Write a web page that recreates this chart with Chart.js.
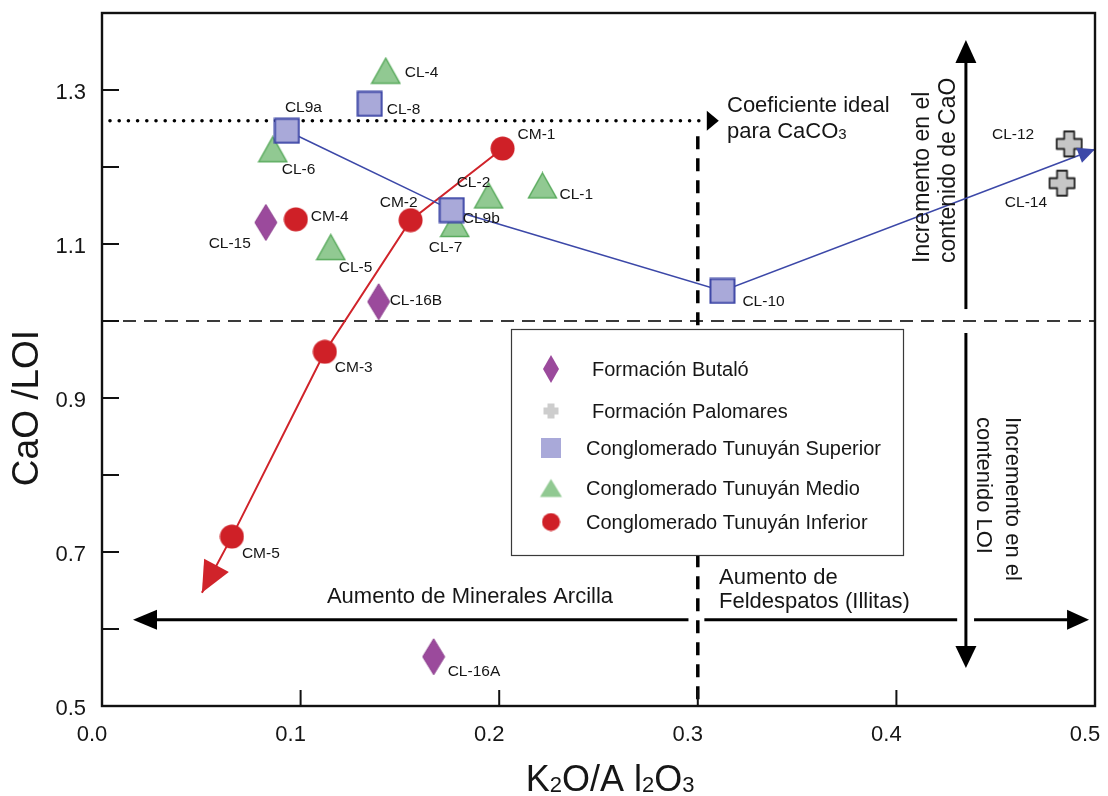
<!DOCTYPE html>
<html>
<head>
<meta charset="utf-8">
<script src="https://cdn.jsdelivr.net/npm/chart.js@4.4.0/dist/chart.umd.min.js"></script>
<style>
html,body{margin:0;padding:0;background:#fff;}
#wrap{width:1108px;height:796px;position:relative;}
</style>
</head>
<body>
<div id="wrap"><canvas id="c" width="1108" height="796"></canvas></div>
<script>
// ---------------- DATA ----------------
const butaloLabels = ['CL-15', 'CL-16B', 'CL-16A'];
const butaloX = [0.0825, 0.1393, 0.167];
const butaloY = [1.128, 1.025, 0.564];

const palomaresLabels = ['CL-12', 'CL-14'];
const palomaresX = [0.487, 0.4834];
const palomaresY = [1.230, 1.179];

const superiorLabels = ['CL9a', 'CL-8', 'CL9b', 'CL-10'];
const superiorX = [0.0931, 0.1348, 0.1761, 0.3124];
const superiorY = [1.247, 1.282, 1.144, 1.039];

const medioLabels = ['CL-4', 'CL-6', 'CL-5', 'CL-7', 'CL-2', 'CL-1'];
const medioX = [0.1429, 0.086, 0.1152, 0.1776, 0.1947, 0.2218];
const medioY = [1.325, 1.223, 1.096, 1.126, 1.163, 1.176];

const inferiorLabels = ['CM-1', 'CM-2', 'CM-4', 'CM-3', 'CM-5'];
const inferiorX = [0.2017, 0.1554, 0.0976, 0.1122, 0.0654];
const inferiorY = [1.224, 1.131, 1.132, 0.960, 0.720];

// trend arrows (CL9a -> CL9b -> CL-10 -> arrow tip ; CM-1 -> CM-2 -> CM-3 -> CM-5 -> arrow tip)
const superiorTrendX = [0.0931, 0.1761, 0.3124, 0.5];
const superiorTrendY = [1.247, 1.144, 1.039, 1.223];
const inferiorTrendX = [0.2017, 0.1554, 0.1122, 0.0654, 0.0503];
const inferiorTrendY = [1.224, 1.131, 0.960, 0.720, 0.647];

const xTickValues = [0, 0.1, 0.2, 0.3, 0.4, 0.5];
const yTickLabelValues = [0.5, 0.7, 0.9, 1.1, 1.3];
const yMinorTickValues = [0.6, 0.7, 0.8, 0.9, 1.0, 1.1, 1.2, 1.3];
const xMinorTickValues = [0.1, 0.2, 0.3, 0.4];

// reference lines / annotation values (data units)
const idealCaCO3 = 1.26;
const feldsparX = 0.3;
const unityY = 1.0;
const caoArrowX = 0.435;
const mineralArrowY = 0.612;

// ---------------- STYLE ----------------
const FF = "'Liberation Sans', Arial, Helvetica, sans-serif";
const TXT = '#161616';

const labelOffsets = {
  'CL9a': [-2, -23, 'left'], 'CL-8': [17, 6, 'left'], 'CL-4': [19, 2, 'left'],
  'CL-6': [9, 20, 'left'], 'CL-15': [-15, 21, 'right'], 'CM-4': [15, -3, 'left'],
  'CL-5': [8, 21, 'left'], 'CM-2': [7, -17, 'right'], 'CL-2': [-32, -13, 'left'],
  'CL9b': [11, 9, 'left'], 'CL-7': [-26, 24, 'left'], 'CM-1': [15, -14, 'left'],
  'CL-1': [17, 9, 'left'], 'CL-16B': [11, -1, 'left'], 'CM-3': [10, 16, 'left'],
  'CM-5': [10, 17, 'left'], 'CL-16A': [14, 15, 'left'], 'CL-10': [20, 11, 'left'],
  'CL-12': [-35, -9, 'right'], 'CL-14': [-15, 20, 'right']
};

function mk(w, h, fn) {
  const c = document.createElement('canvas');
  c.width = w; c.height = h;
  fn(c.getContext('2d'), w, h);
  return c;
}
function diamond(w, h, stroke) {
  return mk(w, h, g => {
    g.beginPath(); g.moveTo(w/2, 1); g.lineTo(w-1, h/2); g.lineTo(w/2, h-1); g.lineTo(1, h/2); g.closePath();
    g.fillStyle = '#9b4a9c'; g.fill();
    if (stroke) { g.strokeStyle = '#8b3e8d'; g.lineWidth = 1; g.stroke(); }
  });
}
function cross(s, t, stroke) {
  return mk(s, s, g => {
    const c = s/2, a = c - 2, b = t/2;
    g.beginPath();
    g.moveTo(c-b, c-a); g.lineTo(c+b, c-a); g.lineTo(c+b, c-b); g.lineTo(c+a, c-b);
    g.lineTo(c+a, c+b); g.lineTo(c+b, c+b); g.lineTo(c+b, c+a); g.lineTo(c-b, c+a);
    g.lineTo(c-b, c+b); g.lineTo(c-a, c+b); g.lineTo(c-a, c-b); g.lineTo(c-b, c-b); g.closePath();
    g.fillStyle = stroke ? '#c6c6c6' : '#cdcdcd'; g.fill();
    if (stroke) { g.lineJoin = 'round'; g.strokeStyle = '#262626'; g.lineWidth = 1.8; g.stroke(); }
  });
}
function square(s, stroke) {
  return mk(s, s, g => {
    g.fillStyle = '#a9a9d9';
    if (stroke) { g.fillRect(1.5, 1.5, s-3, s-3); g.strokeStyle = '#3d46a6'; g.lineWidth = 2; g.strokeRect(1.5, 1.5, s-3, s-3); }
    else g.fillRect(0, 0, s, s);
  });
}
function triangle(w, h, stroke) {
  return mk(w, h, g => {
    g.beginPath(); g.moveTo(w/2, 1.5); g.lineTo(w-1.5, h-1.5); g.lineTo(1.5, h-1.5); g.closePath();
    g.fillStyle = '#91c992'; g.fill();
    if (stroke) { g.strokeStyle = '#5aab5e'; g.lineWidth = 1.5; g.stroke(); }
  });
}
function circle(d) {
  return mk(d, d, g => { g.beginPath(); g.arc(d/2, d/2, d/2 - 0.5, 0, Math.PI*2); g.fillStyle = '#cf2027'; g.fill(); });
}

const imgDiamond = diamond(24, 38, true), imgCross = cross(29, 10, true), imgSquare = square(27, true),
      imgTri = triangle(31, 28, true), imgCircle = circle(25);
const legDiamond = diamond(18, 30, false), legCross = cross(19, 7, false), legSquare = square(20, false),
      legTri = triangle(25, 21, false), legCircle = circle(19);

const zip = (xs, ys) => xs.map((x, i) => ({x, y: ys[i]}));

// ---------------- PLUGINS ----------------
function arrowHead(ctx, x1, y1, x2, y2, len, hw, color) {
  const dx = x2 - x1, dy = y2 - y1, L = Math.hypot(dx, dy), ux = dx/L, uy = dy/L;
  const bx = x2 - ux*len, by = y2 - uy*len;
  ctx.beginPath();
  ctx.moveTo(x2, y2);
  ctx.lineTo(bx - uy*hw, by + ux*hw);
  ctx.lineTo(bx + uy*hw, by - ux*hw);
  ctx.closePath();
  ctx.fillStyle = color; ctx.fill();
}
function arrow(ctx, x1, y1, x2, y2, len, hw, lw, color) {
  const dx = x2 - x1, dy = y2 - y1, L = Math.hypot(dx, dy), ux = dx/L, uy = dy/L;
  ctx.beginPath(); ctx.moveTo(x1, y1); ctx.lineTo(x2 - ux*(len-2), y2 - uy*(len-2));
  ctx.strokeStyle = color; ctx.lineWidth = lw; ctx.setLineDash([]); ctx.stroke();
  arrowHead(ctx, x1, y1, x2, y2, len, hw, color);
}
function seg(ctx, x1, y1, x2, y2) { ctx.beginPath(); ctx.moveTo(x1, y1); ctx.lineTo(x2, y2); ctx.stroke(); }

const refPlugin = {
  id: 'ref',
  beforeDatasetsDraw(chart) {
    const {ctx, chartArea: a, scales: {x, y}} = chart;
    const X = v => x.getPixelForValue(v), Y = v => y.getPixelForValue(v);
    ctx.save();
    // horizontal dashed at CaO/LOI = 1
    ctx.strokeStyle = '#3a3a3a'; ctx.lineWidth = 2; ctx.setLineDash([13, 8]);
    seg(ctx, a.left, Y(unityY), a.right, Y(unityY));
    // dotted ideal CaCO3
    ctx.strokeStyle = '#000'; ctx.lineWidth = 3.6; ctx.lineCap = 'round'; ctx.setLineDash([0, 9.2]);
    seg(ctx, a.left + 8, Y(idealCaCO3), X(feldsparX) + 4, Y(idealCaCO3));
    ctx.lineCap = 'butt'; ctx.setLineDash([]);
    arrowHead(ctx, X(feldsparX), Y(idealCaCO3), X(feldsparX) + 21, Y(idealCaCO3), 12, 10, '#000');
    // vertical dashed at K2O/Al2O3 = 0.3
    ctx.strokeStyle = '#000'; ctx.lineWidth = 3.5; ctx.setLineDash([13, 9]);
    seg(ctx, X(feldsparX), Y(1.24), X(feldsparX), a.bottom);
    ctx.setLineDash([]);
    // vertical arrows (CaO up, LOI down)
    arrow(ctx, X(caoArrowX), Y(1.0155), X(caoArrowX), Y(1.365), 23, 10.5, 3, '#000');
    arrow(ctx, X(caoArrowX), Y(0.9845), X(caoArrowX), Y(0.5495), 22, 10.5, 3, '#000');
    // horizontal arrows
    arrow(ctx, X(0.2953), Y(mineralArrowY), X(0.0156), Y(mineralArrowY), 24, 10, 3, '#000');
    ctx.strokeStyle = '#000'; ctx.lineWidth = 3;
    seg(ctx, X(0.3033), Y(mineralArrowY), X(0.4306), Y(mineralArrowY));
    arrow(ctx, X(0.4391), Y(mineralArrowY), X(0.497), Y(mineralArrowY), 22, 10, 3, '#000');
    // inner tick marks
    ctx.strokeStyle = '#111'; ctx.lineWidth = 2;
    yMinorTickValues.forEach(v => seg(ctx, a.left, Y(v), a.left + 17, Y(v)));
    xMinorTickValues.forEach(v => seg(ctx, X(v), a.bottom, X(v), a.bottom - 16));
    ctx.restore();
  },
  afterDatasetsDraw(chart) {
    const {ctx, chartArea: a, scales: {x, y}} = chart;
    ctx.save();
    // trend arrowheads
    [[superiorTrendX, superiorTrendY, 17, 8, '#3c48a8'], [inferiorTrendX, inferiorTrendY, 31, 14, '#d0232a']].forEach(([xs, ys, len, hw, col]) => {
      const n = xs.length;
      arrowHead(ctx, x.getPixelForValue(xs[n-2]), y.getPixelForValue(ys[n-2]),
                x.getPixelForValue(xs[n-1]), y.getPixelForValue(ys[n-1]), len, hw, col);
    });
    // point labels
    ctx.fillStyle = TXT; ctx.font = `15.5px ${FF}`; ctx.textBaseline = 'middle';
    chart.data.datasets.forEach((ds, di) => {
      if (!ds.pointLabels) return;
      const meta = chart.getDatasetMeta(di);
      ds.pointLabels.forEach((lab, i) => {
        const el = meta.data[i], o = labelOffsets[lab];
        ctx.textAlign = o[2];
        ctx.fillText(lab, el.x + o[0], el.y + o[1]);
      });
    });
    // legend box
    ctx.fillStyle = '#fff'; ctx.fillRect(511, 329, 393, 227);
    ctx.strokeStyle = '#3a3a3a'; ctx.lineWidth = 1.2; ctx.strokeRect(511.5, 329.5, 392, 226);
    const items = [
      [legDiamond, 'Formación Butaló', 369, 592],
      [legCross, 'Formación Palomares', 411, 592],
      [legSquare, 'Conglomerado Tunuyán Superior', 448, 586],
      [legTri, 'Conglomerado Tunuyán Medio', 488, 586],
      [legCircle, 'Conglomerado Tunuyán Inferior', 522, 586]
    ];
    ctx.font = `20px ${FF}`; ctx.fillStyle = TXT; ctx.textAlign = 'left'; ctx.textBaseline = 'middle';
    items.forEach(([im, t, cy, tx]) => {
      ctx.drawImage(im, 551 - im.width/2, cy - im.height/2);
      ctx.fillText(t, tx, cy + 1);
    });
    // annotation texts
    ctx.font = `22px ${FF}`; ctx.textBaseline = 'alphabetic'; ctx.textAlign = 'left';
    ctx.fillText('Coeficiente ideal', 727, 112);
    ctx.fillText('para CaCO', 727, 138);
    let w = ctx.measureText('para CaCO').width;
    ctx.font = `15px ${FF}`; ctx.fillText('3', 727 + w, 139);
    ctx.font = `22px ${FF}`;
    ctx.textAlign = 'center';
    ctx.fillText('Aumento de Minerales Arcilla', 470, 603);
    ctx.textAlign = 'left';
    ctx.fillText('Aumento de', 719, 584);
    ctx.fillText('Feldespatos (Illitas)', 719, 608);
    // rotated CaO text
    ctx.save(); ctx.translate(923, 263); ctx.rotate(-Math.PI/2);
    ctx.font = `23px ${FF}`; ctx.textBaseline = 'middle'; ctx.textAlign = 'left';
    ctx.fillText('Incremento en el', 0, 0);
    ctx.fillText('contenido de CaO', 0, 25.5);
    ctx.restore();
    // rotated LOI text
    ctx.save(); ctx.translate(1012, 417); ctx.rotate(Math.PI/2);
    ctx.font = `22px ${FF}`; ctx.textBaseline = 'middle'; ctx.textAlign = 'left';
    ctx.fillText('Incremento en el', 0, 0);
    ctx.fillText('contenido LOI', 0, 28.5);
    ctx.restore();
    ctx.restore();
  },
  afterDraw(chart) {
    const {ctx, chartArea: a} = chart;
    ctx.save();
    ctx.strokeStyle = '#111'; ctx.lineWidth = 2.4;
    ctx.strokeRect(a.left, a.top, a.right - a.left, a.bottom - a.top);
    // axis titles
    ctx.fillStyle = TXT;
    ctx.save(); ctx.translate(28, 408); ctx.rotate(-Math.PI/2);
    ctx.font = `37px ${FF}`; ctx.textAlign = 'center'; ctx.textBaseline = 'middle';
    ctx.fillText('CaO /LOI', 0, 0);
    ctx.restore();
    // K2O/Al2O3 with subscripts
    const parts = [['K', 0], ['2', 1], ['O/A', 0], [' l', 0], ['2', 1], ['O', 0], ['3', 1]];
    const big = `36px ${FF}`, small = `22px ${FF}`;
    let total = 0;
    parts.forEach(([t, s]) => { ctx.font = s ? small : big; total += ctx.measureText(t).width; });
    let px = 610 - total/2;
    ctx.textAlign = 'left'; ctx.textBaseline = 'alphabetic';
    parts.forEach(([t, s]) => {
      ctx.font = s ? small : big;
      ctx.fillText(t, px, s ? 792 : 791);
      px += ctx.measureText(t).width;
    });
    ctx.restore();
  }
};

// ---------------- CHART ----------------
new Chart(document.getElementById('c'), {
  type: 'scatter',
  data: {
    datasets: [
      {label: 'Conglomerado Tunuyán Superior', pointLabels: superiorLabels, data: zip(superiorX, superiorY),
       pointStyle: imgSquare, pointRadius: 12, order: 0},
      {label: 'Formación Butaló', pointLabels: butaloLabels, data: zip(butaloX, butaloY),
       pointStyle: imgDiamond, pointRadius: 12, order: 1},
      {label: 'Formación Palomares', pointLabels: palomaresLabels, data: zip(palomaresX, palomaresY),
       pointStyle: imgCross, pointRadius: 12, order: 1},
      {label: 'Conglomerado Tunuyán Inferior', pointLabels: inferiorLabels, data: zip(inferiorX, inferiorY),
       pointStyle: imgCircle, pointRadius: 12, order: 1},
      {label: 'Conglomerado Tunuyán Medio', pointLabels: medioLabels, data: zip(medioX, medioY),
       pointStyle: imgTri, pointRadius: 12, order: 2},
      {label: 'superior trend', data: zip(superiorTrendX, superiorTrendY), showLine: true, pointRadius: 0,
       borderColor: '#3c48a8', borderWidth: 1.6, order: 5, clip: false, fill: false},
      {label: 'inferior trend', data: zip(inferiorTrendX, inferiorTrendY), showLine: true, pointRadius: 0,
       borderColor: '#d0232a', borderWidth: 2, order: 5, clip: false, fill: false}
    ]
  },
  options: {
    responsive: false, animation: false, devicePixelRatio: 1,
    layout: {padding: {top: 11, right: 12, left: 0, bottom: 0}},
    plugins: {legend: {display: false}, tooltip: {enabled: false}},
    events: [],
    scales: {
      x: {
        type: 'linear', min: 0, max: 0.5,
        afterBuildTicks: s => { s.ticks = xTickValues.map(v => ({value: v})); },
        ticks: {autoSkip: false, maxRotation: 0, color: TXT, font: {family: FF, size: 22}, padding: 16, labelOffset: -10,
                callback: v => Number(v).toFixed(1)},
        grid: {display: false, drawTicks: false}, border: {display: false},
        afterFit: s => { s.height = 90; s.paddingLeft = 0; s.paddingRight = 0; }
      },
      y: {
        type: 'linear', min: 0.5, max: 1.4,
        afterBuildTicks: s => { s.ticks = yTickLabelValues.map(v => ({value: v})); },
        ticks: {autoSkip: false, color: TXT, font: {family: FF, size: 22}, padding: 16, labelOffset: 3,
                callback: v => Number(v).toFixed(1)},
        grid: {display: false, drawTicks: false}, border: {display: false},
        afterFit: s => { s.width = 102; s.paddingTop = 0; s.paddingBottom = 0; }
      }
    }
  },
  plugins: [refPlugin]
});
</script>
</body>
</html>
